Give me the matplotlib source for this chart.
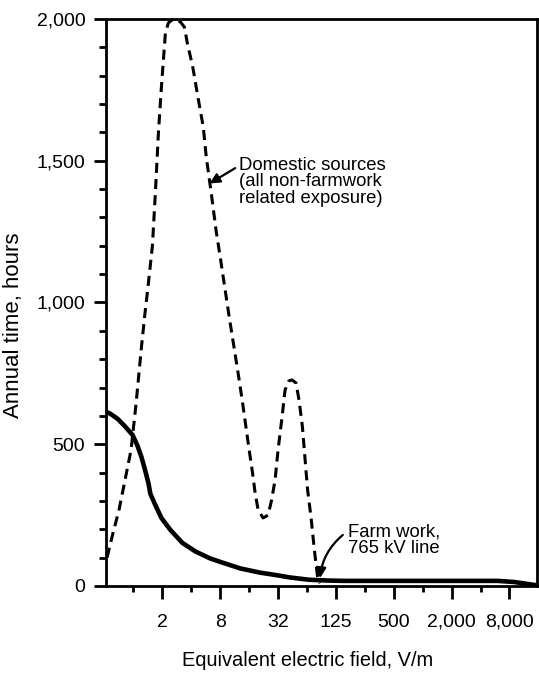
import matplotlib
matplotlib.use("Agg")
import matplotlib.pyplot as plt
import numpy as np

plt.rcParams['font.family'] = ['Liberation Sans', 'DejaVu Sans']

# farm work, 765 kV line (solid)
farm_x = [0.524, 0.577, 0.682, 0.807, 0.977, 1.10, 1.211, 1.33, 1.431, 1.50, 1.692, 1.953,
          2.42, 3.23, 4.40, 6.30, 8, 12.9, 20.8, 29.8, 42.6, 67, 111, 155, 592, 6170, 9220, 15300]
farm_y = [614, 607, 590, 565, 533, 495, 455, 405, 363, 325, 285, 240,
          198, 152, 122, 97, 85, 62, 47, 39, 30, 22, 19, 18, 18, 18, 14, 3]

# domestic sources (dashed)
dom_x = [0.531, 0.605, 0.707, 0.818, 0.944, 1.062, 1.211, 1.316, 1.431, 1.575,
         1.692, 1.818, 1.953, 2.049, 2.149, 2.308, 2.480, 2.729, 3.076, 3.384,
         3.636, 4.146, 4.684, 5.329, 5.725, 6.452, 7.271, 8, 9.92, 12.01,
         13.54, 16, 17.19, 18.47, 19.84, 22.36, 25.20, 27.40, 29.79, 32,
         35.21, 37.83, 41.33, 44.72, 49.21, 52.86, 57.34, 61.0, 64.93, 70.42,
         76.4, 83.2, 87.3]
dom_y = [100, 180, 268, 375, 480, 640, 843, 960, 1069, 1200,
         1390, 1598, 1760, 1855, 1950, 1986, 1995, 1997, 1990, 1972,
         1915, 1830, 1725, 1619, 1513, 1386, 1250, 1160, 949, 772,
         656, 480, 409, 328, 268, 240, 250, 303, 374, 480,
         596, 691, 723, 727, 716, 656, 562, 450, 339, 243,
         127, 21, 10]

xticks = [2, 8, 32, 128, 512, 2048, 8192]
xtick_labels = ['2', '8', '32', '125', '500', '2,000', '8,000']
xminor = [1, 4, 16, 64, 256, 1024, 4096]
yticks = [0, 500, 1000, 1500, 2000]
ytick_labels = ['0', '500', '1,000', '1,500', '2,000']

fig = plt.figure(figsize=(5.39, 6.79), dpi=100)
ax = fig.add_axes([0.197, 0.137, 0.799, 0.835])

ax.plot(farm_x, farm_y, color='black', lw=3.3, solid_capstyle='round', solid_joinstyle='round')
ax.plot(dom_x, dom_y, color='black', lw=2.2, linestyle=(0, (3.3, 2.0)))

ax.set_xscale('log', base=2)
ax.set_xlim(0.52, 15800)
ax.set_ylim(0, 2000)

ax.set_xticks(xticks)
ax.set_xticklabels(xtick_labels)
ax.set_xticks(xminor, minor=True)
ax.set_xticklabels([], minor=True)
ax.set_yticks(yticks)
ax.set_yticklabels(ytick_labels)
ax.set_yticks(np.arange(0, 2001, 100), minor=True)

ax.tick_params(axis='both', which='major', length=9, width=2, labelsize=14, direction='out')
ax.tick_params(axis='y', which='minor', length=5, width=2, direction='out')
ax.tick_params(axis='x', which='minor', length=4, width=2, direction='out')
ax.tick_params(axis='x', which='major', pad=11)
ax.tick_params(axis='y', which='major', pad=6)

for s in ax.spines.values():
    s.set_linewidth(2)

ax.set_xlabel('Equivalent electric field, V/m', fontsize=14.4)
ax.xaxis.set_label_coords(0.4675, -0.114)
ax.set_ylabel('Annual time, hours', fontsize=16)
ax.yaxis.set_label_coords(-0.19, 0.46)

ax.text(12.6, 1513, 'Domestic sources\n(all non-farmwork\nrelated exposure)',
        fontsize=13.3, va='top', ha='left', linespacing=0.95)
ax.annotate('', xy=(6.2, 1420), xytext=(11.45, 1474),
            arrowprops=dict(arrowstyle='-|>', color='black', lw=1.6,
                            mutation_scale=15, shrinkA=0, shrinkB=0))

ax.text(170.6, 219, 'Farm work,\n765 kV line',
        fontsize=13.3, va='top', ha='left', linespacing=0.95)
ax.annotate('', xy=(87.3, 28), xytext=(151, 180),
            arrowprops=dict(arrowstyle='-|>', color='black', lw=1.6,
                            mutation_scale=15, shrinkA=0, shrinkB=0,
                            connectionstyle='arc3,rad=0.2'))

fig.savefig('out.png', dpi=100)
